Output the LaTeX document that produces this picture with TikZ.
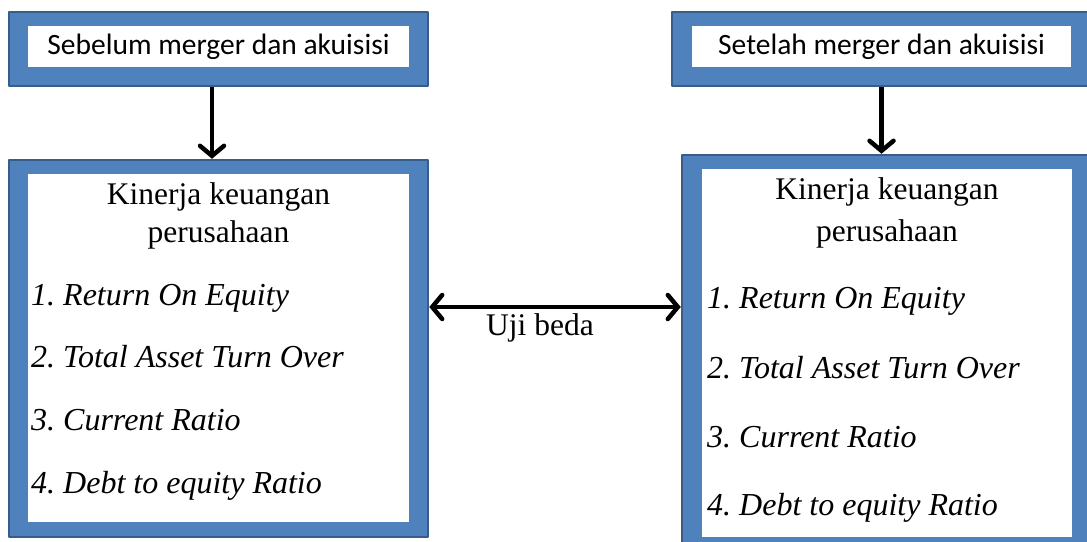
\documentclass[tikz,border=0pt]{standalone}
\usepackage{fontspec}
\setmainfont{Liberation Serif}
\newfontfamily\boxfont{Carlito}
\usepackage{tikz}
\usetikzlibrary{arrows.meta,positioning}

\definecolor{frameblue}{HTML}{4F81BD}
\definecolor{framedark}{HTML}{385D8A}

\begin{document}
\begin{tikzpicture}[line cap=round,line join=round,x=1pt,y=-1pt,
  frame/.style={draw=framedark,line width=2.5pt,fill=frameblue,inner sep=0pt},
  pane/.style={fill=white,inner sep=0pt},
  flow/.style={line width=4.5pt,line cap=butt,-{Straight Barb[length=10pt,width=24pt,line cap=round]}},
  title/.style={anchor=base,inner sep=0pt,font=\fontsize{31.5}{36}\selectfont},
  item/.style={anchor=base west,inner sep=0pt,font=\fontsize{32}{36}\selectfont\itshape}]
\useasboundingbox (0,0) rectangle (1087,541);
\clip (0,0) rectangle (1087,541);
% top boxes
\node[frame,minimum width=419pt,minimum height=74pt] (pre) at (218.5,49) {};
\node[pane,minimum width=381pt,minimum height=41pt] at (218.5,46.5) {};
\node[anchor=base,inner sep=0pt,font=\boxfont\fontsize{29.5}{34}\selectfont] at (218.5,54) {Sebelum merger dan akuisisi};
\node[frame,minimum width=419pt,minimum height=74pt] (post) at (881.5,49) {};
\node[pane,minimum width=379pt,minimum height=41pt] at (881.5,46.5) {};
\node[anchor=base,inner sep=0pt,font=\boxfont\fontsize{29.5}{34}\selectfont] at (881.5,54) {Setelah merger dan akuisisi};
% bottom boxes
\node[frame,minimum width=419pt,minimum height=377pt] (kinL) at (218.5,348.5) {};
\node[pane,minimum width=381pt,minimum height=348pt] at (218.5,348) {};
\node[title] at (218.5,204) {Kinerja keuangan};
\node[title] at (218.5,242) {perusahaan};
\node[item] at (31,305) {1.~Return On Equity};
\node[item] at (31,367) {2.~Total Asset Turn Over};
\node[item] at (31,430) {3.~Current Ratio};
\node[item] at (31,493) {4.~Debt to equity Ratio};
\node[frame,minimum width=409pt,minimum height=401pt] (kinR) at (886.5,355.5) {};
\node[pane,minimum width=370pt,minimum height=368pt] at (887,353) {};
\node[title] at (887,199) {Kinerja keuangan};
\node[title] at (887,241) {perusahaan};
\node[item] at (707,308) {1.~Return On Equity};
\node[item] at (707,378) {2.~Total Asset Turn Over};
\node[item] at (707,447) {3.~Current Ratio};
\node[item] at (707,515) {4.~Debt to equity Ratio};
% arrows
\draw[flow] ([xshift=-6.5pt]pre.south) -- ([xshift=-6.5pt]pre.south |- kinL.north);
\draw[flow] (post.south) -- (post.south |- kinR.north);
\coordinate (mid) at (540,307);
\draw[flow,{Straight Barb[length=10pt,width=24pt,line cap=round]}-{Straight Barb[length=10pt,width=24pt,line cap=round]}] (kinL.east |- mid) -- (kinR.west |- mid);
\node[anchor=base,inner sep=0pt,font=\fontsize{31.5}{36}\selectfont] (uji) at (540,335) {Uji beda};
\end{tikzpicture}
\end{document}
